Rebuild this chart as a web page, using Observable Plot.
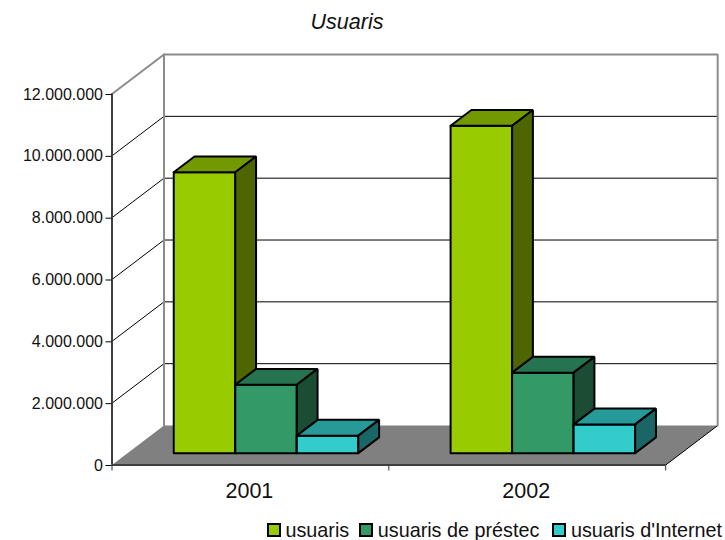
<!DOCTYPE html>
<html><head><meta charset="utf-8">
<script src="https://cdn.jsdelivr.net/npm/d3@7"></script>
<script src="https://cdn.jsdelivr.net/npm/@observablehq/plot@0.6"></script>
<style>
html,body{margin:0;padding:0;background:#fff;font-family:"Liberation Sans",Arial,sans-serif;overflow:hidden}
#title{height:45px;line-height:45px;width:694px;text-align:center;font-style:italic;font-size:21.5px;color:#111}
#legend{display:flex;justify-content:flex-end;height:20px;align-items:center;font-size:19.8px;color:#111;padding-right:3px}
#legend span.i{display:flex;align-items:center;margin-left:10px}
#legend span.i:nth-child(3){margin-left:13px}
#legend i{display:inline-block;width:10px;height:10px;border:2px solid #000;margin-right:4.5px}
svg{display:block}
</style></head><body>
<div id="title">Usuaris</div>
<div id="chart"></div>
<div id="legend"></div>
<script>
const years = ["2001", "2002"];
const seriesNames = ["usuaris", "usuaris de préstec", "usuaris d'Internet"];
const usuaris = [9086000, 10590000];
const prestec = [2215000, 2604000];
const internet = [566000, 930000];
const yTicks = [0, 2000000, 4000000, 6000000, 8000000, 10000000, 12000000];
const frontColors = ["#99cc00", "#339966", "#33cccc"];
const topColors = ["#739900", "#267350", "#269999"];
const sideColors = ["#4d6600", "#1a4d33", "#1a6666"];

const depthX = 0.1878, depthY = 1277000;     // oblique projection of one unit of depth
const gap = 1 / 6, barW = 2 / 9, z0 = 0.3, z1 = 0.7;
const P = (x, v, z) => ({x: x + z * depthX, y: v + z * depthY});
const xMax = years.length, yMax = d3.max(yTicks);
const poly = (pts, options) => Plot.line(pts, {x: "x", y: "y", strokeLinejoin: "miter", ...options});

const fmt = d3.formatLocale({decimal: ",", thousands: ".", grouping: [3], currency: ["", ""]}).format(",d");

const marks = [];
// floor
marks.push(poly([P(0,0,0), P(xMax,0,0), P(xMax,0,1), P(0,0,1), P(0,0,0)], {fill: "#808080", stroke: "none"}));
marks.push(poly([P(xMax,0,0), P(xMax,0,1)], {stroke: "#000", strokeWidth: 1}));
// gridlines on side wall + back wall
for (const t of yTicks.slice(1, -1)) {
  marks.push(poly([P(0,t,0), P(0,t,1), P(xMax,t,1)], {stroke: "#000", strokeWidth: 1}));
}
// wall frame
marks.push(poly([P(0,yMax,0), P(0,yMax,1), P(xMax,yMax,1), P(xMax,0,1)], {stroke: "#8c8c8c", strokeWidth: 2}));
marks.push(poly([P(0,0,1), P(0,yMax,1)], {stroke: "#8c8c8c", strokeWidth: 2}));
// front floor edge and vertical axis
marks.push(Plot.ruleY([0], {stroke: "#404040", strokeWidth: 2}));
marks.push(Plot.ruleX([0], {stroke: "#404040", strokeWidth: 2}));
// bars
const seriesValues = [usuaris, prestec, internet];
years.forEach((yr, i) => {
  seriesValues.forEach((vals, j) => {
    const a = i + gap + j * barW, b = a + barW, v = vals[i];
    const style = {stroke: "#000", strokeWidth: 2};
    marks.push(poly([P(a,0,z0), P(b,0,z0), P(b,v,z0), P(a,v,z0), P(a,0,z0)], {fill: frontColors[j], ...style}));
    marks.push(poly([P(a,v,z0), P(b,v,z0), P(b,v,z1), P(a,v,z1), P(a,v,z0)], {fill: topColors[j], ...style}));
    marks.push(poly([P(b,0,z0), P(b,0,z1), P(b,v,z1), P(b,v,z0), P(b,0,z0)], {fill: sideColors[j], ...style}));
  });
});
marks.push(Plot.axisY({ticks: yTicks, tickFormat: fmt, tickSize: 6, tickPadding: 3, fontSize: 16, label: null, stroke: "#000", fill: "#111", textStroke: "none", dy: 0.5}));
marks.push(Plot.axisX({ticks: d3.range(xMax + 1), tickFormat: () => "", tickSize: 6, label: null, stroke: "#333"}));
marks.push(Plot.text(years, {x: (d, i) => i + 0.5, y: () => 0, text: d => d, dx: -1, dy: 26, fontSize: 21.5, fill: "#111"}));

const chart = Plot.plot({
  width: 725, height: 475,
  marginLeft: 111.5, marginRight: 59.8, marginTop: 48.5, marginBottom: 55.5,
  x: {type: "linear", domain: [0, xMax]},
  y: {type: "linear", domain: [0, yMax]},
  style: {background: "#fff", fontFamily: "'Liberation Sans',Arial,sans-serif", overflow: "visible"},
  marks
});
document.getElementById("chart").append(chart);

const legend = document.getElementById("legend");
seriesNames.forEach((n, j) => {
  const s = document.createElement("span"); s.className = "i";
  const sw = document.createElement("i"); sw.style.background = frontColors[j];
  s.append(sw, document.createTextNode(n));
  legend.append(s);
});
</script>
</body></html>
